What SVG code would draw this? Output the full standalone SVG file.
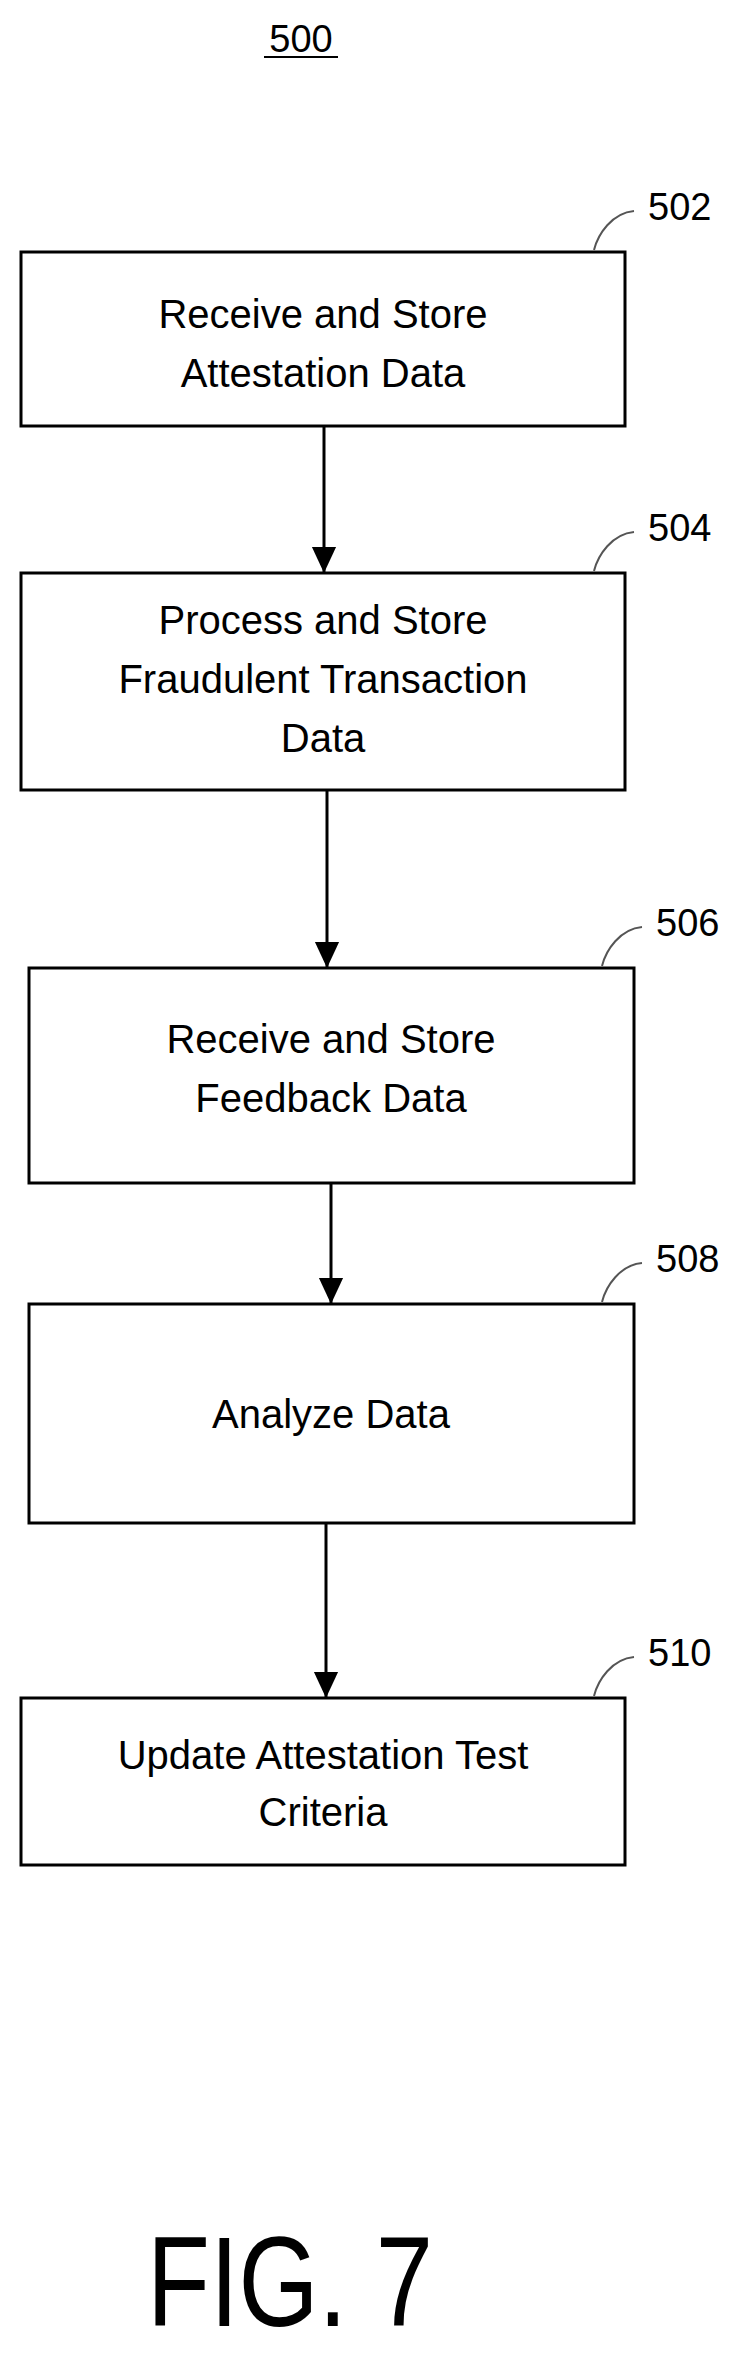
<svg xmlns="http://www.w3.org/2000/svg" width="747" height="2379" viewBox="0 0 747 2379">
<style>
.box{fill:#fff;stroke:#000;stroke-width:3}
.t{font-family:"Liberation Sans",Arial,sans-serif;font-size:40px;text-anchor:middle;fill:#000}
.n{font-family:"Liberation Sans",Arial,sans-serif;font-size:38px;fill:#000}
.ld{fill:none;stroke:#555;stroke-width:2}
.c{stroke:#000;stroke-width:3}
</style>
<defs>
<marker id="a" viewBox="0 0 28 26" refX="28" refY="13" markerWidth="26" markerHeight="28" markerUnits="userSpaceOnUse" orient="auto"><path d="M0,0 L28,13 L0,26 z" fill="#000"/></marker></defs>
<text class="n" x="301" y="52" text-anchor="middle">500</text>
<line x1="264" y1="57" x2="338" y2="57" stroke="#000" stroke-width="2"/>
<g id="connectors">
<line class="c" x1="324" y1="426" x2="324" y2="573" marker-end="url(#a)"/>
<line class="c" x1="327" y1="790" x2="327" y2="968" marker-end="url(#a)"/>
<line class="c" x1="331" y1="1183" x2="331" y2="1304" marker-end="url(#a)"/>
<line class="c" x1="326" y1="1523" x2="326" y2="1698" marker-end="url(#a)"/>
</g>
<g id="n502"><rect class="box" x="21" y="252" width="604" height="174"/>
<text class="t" x="323" y="328">Receive and Store</text><text class="t" x="323" y="387">Attestation Data</text>
<path class="ld" d="M594,250 C598,234 612,213 634,211"/><text class="n" x="648" y="220">502</text></g>
<g id="n504"><rect class="box" x="21" y="573" width="604" height="217"/>
<text class="t" x="323" y="634">Process and Store</text><text class="t" x="323" y="693">Fraudulent Transaction</text><text class="t" x="323" y="752">Data</text>
<path class="ld" d="M594,571 C598,555 612,534 634,532"/><text class="n" x="648" y="541">504</text></g>
<g id="n506"><rect class="box" x="29" y="968" width="605" height="215"/>
<text class="t" x="331" y="1053">Receive and Store</text><text class="t" x="331" y="1112">Feedback Data</text>
<path class="ld" d="M602,966 C606,950 620,929 642,927"/><text class="n" x="656" y="936">506</text></g>
<g id="n508"><rect class="box" x="29" y="1304" width="605" height="219"/>
<text class="t" x="331" y="1428">Analyze Data</text>
<path class="ld" d="M602,1302 C606,1286 620,1265 642,1263"/><text class="n" x="656" y="1272">508</text></g>
<g id="n510"><rect class="box" x="21" y="1698" width="604" height="167"/>
<text class="t" x="323" y="1769">Update Attestation Test</text><text class="t" x="323" y="1826">Criteria</text>
<path class="ld" d="M594,1696 C598,1680 612,1659 634,1657"/><text class="n" x="648" y="1666">510</text></g>
<text x="147" y="2326" font-family="'Liberation Sans',Arial,sans-serif" font-size="128" textLength="286" lengthAdjust="spacingAndGlyphs">FIG. 7</text>
</svg>
